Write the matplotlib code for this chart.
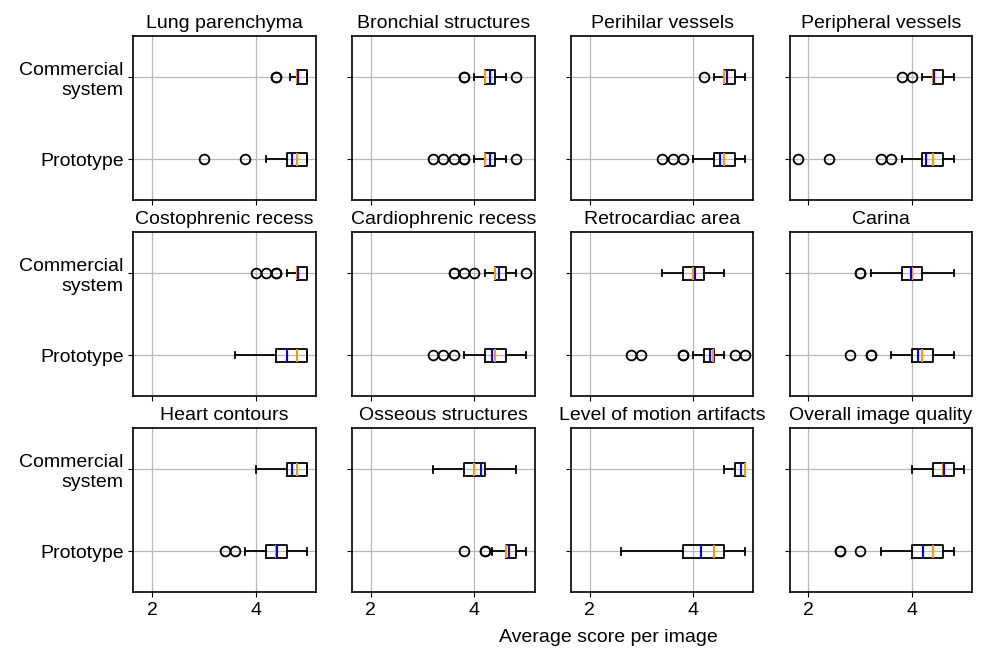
import matplotlib
matplotlib.use('Agg')
import matplotlib.pyplot as plt

plt.rcParams['font.family'] = ['Liberation Sans', 'DejaVu Sans']
plt.rcParams['font.size'] = 14

titles = ["Lung parenchyma", "Bronchial structures", "Perihilar vessels", "Peripheral vessels",
          "Costophrenic recess", "Cardiophrenic recess", "Retrocardiac area", "Carina",
          "Heart contours", "Osseous structures", "Level of motion artifacts", "Overall image quality"]
group_labels = ["Prototype", "Commercial\nsystem"]
x_ticks = [2, 4]
x_label = "Average score per image"

# Prototype statistics
p_whislo = [4.2, 4.0, 4.0, 3.8, 3.6, 3.8, 4.0, 3.6, 3.8, 4.33, 2.6, 3.4]
p_q1     = [4.6, 4.2, 4.4, 4.2, 4.4, 4.2, 4.2, 4.0, 4.2, 4.6, 3.8, 4.0]
p_med    = [4.8, 4.2, 4.6, 4.4, 4.8, 4.4, 4.38, 4.2, 4.4, 4.6, 4.4, 4.4]
p_mean   = [4.71, 4.3, 4.51, 4.26, 4.6, 4.33, 4.32, 4.11, 4.41, 4.66, 4.14, 4.21]
p_q3     = [5.0, 4.4, 4.8, 4.6, 5.0, 4.6, 4.4, 4.4, 4.6, 4.8, 4.6, 4.6]
p_whishi = [5.0, 4.6, 5.0, 4.8, 5.0, 5.0, 4.6, 4.8, 5.0, 5.0, 5.0, 4.8]
p_fliers = [[3.0, 3.8], [3.2, 3.4, 3.6, 3.8, 3.8, 4.8], [3.4, 3.6, 3.8], [1.8, 2.4, 3.4, 3.6],
            [], [3.2, 3.4, 3.6], [2.8, 3.0, 3.8, 3.8, 4.8, 5.0], [2.8, 3.2, 3.2],
            [3.4, 3.6], [3.8, 4.2, 4.2], [], [2.6, 2.6, 3.0]]

# Commercial system statistics
c_whislo = [4.67, 4.0, 4.4, 4.2, 4.6, 4.2, 3.4, 3.2, 4.0, 3.2, 4.6, 4.0]
c_q1     = [4.8, 4.2, 4.6, 4.4, 4.8, 4.4, 3.8, 3.8, 4.6, 3.8, 4.8, 4.4]
c_med    = [4.8, 4.2, 4.6, 4.4, 4.8, 4.4, 4.0, 4.0, 4.8, 4.0, 5.0, 4.6]
c_mean   = [4.82, 4.3, 4.65, 4.43, 4.81, 4.47, 4.04, 3.97, 4.71, 4.12, 4.93, 4.61]
c_q3     = [5.0, 4.4, 4.8, 4.6, 5.0, 4.6, 4.2, 4.2, 5.0, 4.2, 5.0, 4.8]
c_whishi = [5.0, 4.6, 5.0, 4.8, 5.0, 4.8, 4.6, 4.8, 5.0, 4.8, 5.0, 5.0]
c_fliers = [[4.4, 4.4], [3.8, 3.8, 4.8], [4.2], [3.8, 4.0],
            [4.0, 4.2, 4.4, 4.4], [3.6, 3.6, 3.8, 4.0, 5.0], [], [3.0, 3.0],
            [], [], [], []]

fig, axes = plt.subplots(3, 4, sharex=True, sharey=True, figsize=(9.84, 6.55), dpi=100)
fig.subplots_adjust(left=0.1355, right=0.988, top=0.945, bottom=0.0957, wspace=0.2, hspace=0.195)

for i, ax in enumerate(axes.flat):
    stats = [
        dict(whislo=p_whislo[i], q1=p_q1[i], med=p_med[i], mean=p_mean[i], q3=p_q3[i],
             whishi=p_whishi[i], fliers=p_fliers[i]),
        dict(whislo=c_whislo[i], q1=c_q1[i], med=c_med[i], mean=c_mean[i], q3=c_q3[i],
             whishi=c_whishi[i], fliers=c_fliers[i]),
    ]
    ax.bxp(stats, positions=[1, 2], widths=0.16, orientation='horizontal',
           showmeans=True, meanline=True,
           boxprops=dict(color='black', linewidth=1.3),
           whiskerprops=dict(color='black', linewidth=1.3),
           capprops=dict(color='black', linewidth=1.3),
           medianprops=dict(color='#ff9900', linewidth=1.5),
           meanprops=dict(color='blue', linestyle='-', linewidth=1.5),
           flierprops=dict(marker='o', markersize=7, markeredgewidth=1.3,
                           markerfacecolor='none', markeredgecolor='black'))
    ax.set_title(titles[i], fontsize=14)
    ax.grid(True, color='#b8b8b8', linewidth=0.9)
    ax.set_axisbelow(True)
    ax.set_yticks([1, 2])
    ax.set_yticklabels(group_labels)
    ax.set_xticks(x_ticks)
    ax.set_xlim(1.64, 5.16)
    ax.set_ylim(0.5, 2.5)
    for sp in ax.spines.values():
        sp.set_linewidth(1.2)

fig.text(608 / 984, 1 - 637 / 655, x_label, ha='center', va='center', fontsize=14)
fig.savefig('out.png', dpi=100)
